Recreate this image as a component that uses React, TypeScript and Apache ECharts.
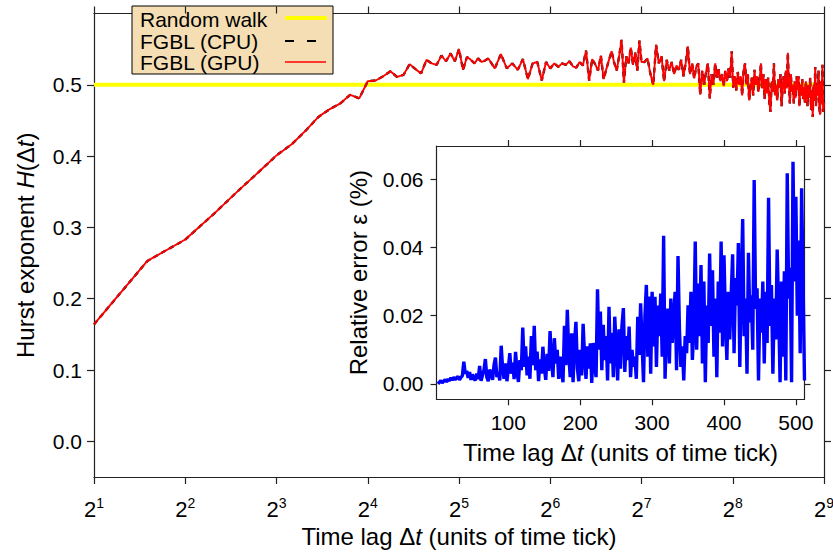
import React, { useEffect, useRef } from "react";
import * as echarts from "echarts";

// ---------------- DATA ----------------
// Hurst exponent H(Δt)
const hurstLowStart = 2; // lags 2..40, step 1
const hurstLowStep = 1;
const hurstLow = [
  0.164, 0.253, 0.283, 0.32, 0.352, 0.378, 0.401, 0.417, 0.436, 0.455,
  0.466, 0.474, 0.486, 0.481, 0.505, 0.506, 0.512, 0.519, 0.511, 0.514,
  0.529, 0.522, 0.516, 0.535, 0.53, 0.528, 0.541, 0.533, 0.544, 0.533,
  0.55, 0.521, 0.539, 0.535, 0.53, 0.537, 0.532, 0.534, 0.537,
];
const hurstMidStart = 42; // lags 42..128, step 2
const hurstMidStep = 2;
const hurstMid = [
  0.523, 0.543, 0.523, 0.53, 0.521, 0.536, 0.508, 0.53, 0.532, 0.506,
  0.532, 0.523, 0.53, 0.525, 0.53, 0.528, 0.533, 0.526, 0.524, 0.532,
  0.527, 0.548, 0.506, 0.536, 0.529, 0.52, 0.541, 0.508, 0.522, 0.535,
  0.547, 0.531, 0.52, 0.54, 0.563, 0.503, 0.54, 0.53, 0.552, 0.528,
  0.545, 0.52, 0.562, 0.532,
];
const hurstHighStart = 131; // lags 131..512, step 3
const hurstHighStep = 3;
const hurstHigh = [
  0.532, 0.537, 0.515, 0.5, 0.556, 0.53, 0.54, 0.505, 0.535, 0.52,
  0.532, 0.515, 0.527, 0.521, 0.535, 0.512, 0.53, 0.554, 0.515, 0.53,
  0.509, 0.525, 0.53, 0.486, 0.52, 0.5, 0.518, 0.53, 0.481, 0.515,
  0.5, 0.53, 0.51, 0.522, 0.505, 0.515, 0.498, 0.52, 0.505, 0.523,
  0.51, 0.547, 0.496, 0.512, 0.492, 0.518, 0.5, 0.512, 0.485, 0.52,
  0.53, 0.5, 0.515, 0.478, 0.495, 0.51, 0.485, 0.521, 0.5, 0.512,
  0.49, 0.505, 0.53, 0.495, 0.515, 0.48, 0.508, 0.488, 0.51, 0.475,
  0.462, 0.505, 0.49, 0.53, 0.485, 0.5, 0.478, 0.508, 0.496, 0.515,
  0.47, 0.5, 0.512, 0.488, 0.52, 0.495, 0.545, 0.505, 0.474, 0.515,
  0.49, 0.5, 0.474, 0.505, 0.482, 0.512, 0.492, 0.512, 0.47, 0.5,
  0.485, 0.508, 0.48, 0.497, 0.475, 0.505, 0.488, 0.47, 0.5, 0.482,
  0.51, 0.465, 0.492, 0.455, 0.5, 0.478, 0.525, 0.47, 0.5, 0.485,
  0.52, 0.468, 0.458, 0.505, 0.475, 0.528, 0.462, 0.475,
];
const randomWalkLevel = 0.5;
const lagRange = [2, 512];
const mainYTicks = [0, 0.1, 0.2, 0.3, 0.4, 0.5];
const mainYRange = [-0.05, 0.6];

// Inset: relative error ε (%) in units of 0.0001 %
const errStart = 2; // lags 2..512, step 2
const errStep = 2;
const errScaled = [
  0, 5, 10, 3, 8, 12, 6, 14, 9, 18,
  11, 20, 13, 17, 22, 12, 19, 24, 65, 30,
  38, 18, 35, 12, 28, 16, 10, 30, 14, 53,
  9, 25, 40, 73, 20, 8, 42, 30, 12, 55,
  77, 20, 35, 10, 112, 45, 15, 60, 8, 48,
  90, 30, 62, 14, 94, 35, 6, 70, 40, 165,
  50, 110, 25, 80, 15, 140, 55, 170, 40, 95,
  8, 72, 30, 109, 48, 12, 88, 38, 155, 70,
  20, 134, 60, 100, 15, 80, 35, 5, 170, 55,
  217, 90, 20, 148, 5, 120, 182, 45, 8, 100,
  25, 176, 80, 15, 110, 45, 119, 3, 120, 55,
  20, 277, 100, 212, 40, 173, 70, 140, 10, 226,
  60, 150, 20, 197, 110, 10, 160, 45, 170, 222,
  35, 140, 70, 168, 20, 100, 50, 80, 15, 197,
  85, 236, 120, 5, 200, 290, 80, 256, 30, 270,
  110, 255, 50, 230, 140, 265, 80, 434, 15, 160,
  221, 60, 250, 120, 200, 270, 40, 375, 160, 50,
  110, 10, 140, 90, 230, 120, 270, 70, 160, 417,
  100, 294, 140, 348, 60, 300, 5, 230, 120, 382,
  170, 333, 80, 250, 20, 300, 150, 417, 110, 377,
  190, 70, 270, 130, 260, 380, 90, 310, 230, 413,
  50, 300, 483, 140, 250, 30, 384, 180, 260, 100,
  597, 220, 280, 10, 250, 150, 300, 60, 270, 120,
  545, 170, 290, 30, 250, 130, 394, 220, 5, 300,
  80, 330, 10, 617, 250, 340, 5, 651, 300, 548,
  200, 420, 90, 573, 300, 10,
];
const errUnit = 0.0001;
const insetXTicks = [100, 200, 300, 400, 500];
const insetXRange = [0, 512];
const insetYTicks = [0, 0.02, 0.04, 0.06];
const insetYRange = [-0.0045, 0.0697];

const legendNames = ["Random walk", "FGBL (CPU)", "FGBL (GPU)"];

// ---------------- STYLE ----------------
const FONT = "'Liberation Sans', Arial, Helvetica, sans-serif";
const AXIS_COLOR = "#222";

function seg(start: number, step: number, values: number[], scale = 1) {
  return values.map((v, i) => [start + i * step, v * scale]);
}

export default function App() {
  const ref = useRef<HTMLDivElement>(null);

  useEffect(() => {
    document.body.style.margin = "0";
    if (!ref.current) return;
    const chart = echarts.init(ref.current, undefined, { renderer: "svg" });

    const hurstData = [
      ...seg(hurstLowStart, hurstLowStep, hurstLow),
      ...seg(hurstMidStart, hurstMidStep, hurstMid),
      ...seg(hurstHighStart, hurstHighStep, hurstHigh),
    ];
    const errData = seg(errStart, errStep, errScaled, errUnit);

    const lineStyle = { color: AXIS_COLOR, width: 1.2 };
    const tickStyle = { color: AXIS_COLOR, width: 1.2 };
    const titleRich = {
      n: { fontSize: 24, fontFamily: FONT, color: "#000" },
      i: { fontSize: 24, fontFamily: FONT, color: "#000", fontStyle: "italic" },
    };
    const lagTitle = "{n|Time lag Δ}{i|t}{n| (units of time tick)}";

    const option: any = {
      animation: false,
      backgroundColor: "#fff",
      grid: [
        { left: 94, top: 13.5, width: 730, height: 463.5, outerBoundsMode: "none", containLabel: false },
        {
          left: 436.5, top: 146, width: 368, height: 253.3,
          outerBoundsMode: "none", containLabel: false,
          show: true, backgroundColor: "#fff", borderWidth: 0,
        },
      ],
      xAxis: [
        {
          gridIndex: 0, type: "log", logBase: 2, min: lagRange[0], max: lagRange[1],
          position: "bottom",
          axisLine: { show: true, onZero: false, lineStyle },
          axisTick: { show: true, inside: false, length: 7, lineStyle: tickStyle },
          splitLine: { show: false },
          axisLabel: {
            margin: 19,
            formatter: (v: number) => `{b|2}{s|${Math.round(Math.log(v) / Math.log(2))}}`,
            rich: {
              b: { fontSize: 22, fontFamily: FONT, color: "#000" },
              s: { fontSize: 14, fontFamily: FONT, color: "#000", padding: [0, 0, 12, 0] },
            },
          },
          name: lagTitle, nameLocation: "middle", nameGap: 46,
          nameTextStyle: { rich: titleRich },
        },
        {
          gridIndex: 0, type: "log", logBase: 2, min: lagRange[0], max: lagRange[1],
          position: "top", z: 0,
          axisLine: { show: true, onZero: false, lineStyle },
          axisTick: { show: false }, axisLabel: { show: false }, splitLine: { show: false },
        },
        {
          gridIndex: 0, type: "log", logBase: 2, min: lagRange[0], max: lagRange[1],
          position: "top", z: 10,
          axisLine: { show: false, onZero: false },
          axisTick: { show: true, inside: false, length: 7, lineStyle: tickStyle },
          axisLabel: { show: false }, splitLine: { show: false },
        },
        {
          gridIndex: 1, type: "value", min: insetXRange[0], max: insetXRange[1],
          position: "bottom",
          axisLine: { show: true, onZero: false, lineStyle },
          axisTick: { show: true, inside: false, length: 6, lineStyle: tickStyle, customValues: insetXTicks },
          splitLine: { show: false },
          axisLabel: {
            margin: 13, customValues: insetXTicks,
            fontSize: 21, fontFamily: FONT, color: "#000",
          },
          name: lagTitle, nameLocation: "middle", nameGap: 41,
          nameTextStyle: { rich: titleRich },
        },
        {
          gridIndex: 1, type: "value", min: insetXRange[0], max: insetXRange[1],
          position: "top",
          axisLine: { show: true, onZero: false, lineStyle },
          axisTick: { show: true, inside: false, length: 6, lineStyle: tickStyle, customValues: insetXTicks },
          axisLabel: { show: false }, splitLine: { show: false },
        },
      ],
      yAxis: [
        {
          gridIndex: 0, type: "value", min: mainYRange[0], max: mainYRange[1],
          position: "left",
          axisLine: { show: true, onZero: false, lineStyle },
          axisTick: { show: true, inside: false, length: 7, lineStyle: tickStyle, customValues: mainYTicks },
          splitLine: { show: false },
          axisLabel: {
            margin: 12, customValues: mainYTicks,
            formatter: (v: number) => v.toFixed(1),
            fontSize: 21, fontFamily: FONT, color: "#000",
          },
          name: "{n|Hurst exponent }{i|H}{n|(Δ}{i|t}{n|)}",
          nameLocation: "middle", nameGap: 57,
          nameTextStyle: { rich: titleRich },
        },
        {
          gridIndex: 0, type: "value", min: mainYRange[0], max: mainYRange[1],
          position: "right",
          axisLine: { show: true, onZero: false, lineStyle },
          axisTick: { show: true, inside: false, length: 7, lineStyle: tickStyle, customValues: mainYTicks },
          axisLabel: { show: false }, splitLine: { show: false },
        },
        {
          gridIndex: 1, type: "value", min: insetYRange[0], max: insetYRange[1],
          position: "left",
          axisLine: { show: true, onZero: false, lineStyle },
          axisTick: { show: true, inside: false, length: 6, lineStyle: tickStyle, customValues: insetYTicks },
          splitLine: { show: false },
          axisLabel: {
            margin: 13, customValues: insetYTicks,
            formatter: (v: number) => v.toFixed(2),
            fontSize: 21, fontFamily: FONT, color: "#000",
          },
          name: "{n|Relative error ε (%)}",
          nameLocation: "middle", nameGap: 66,
          nameTextStyle: { rich: titleRich },
        },
        {
          gridIndex: 1, type: "value", min: insetYRange[0], max: insetYRange[1],
          position: "right",
          axisLine: { show: true, onZero: false, lineStyle },
          axisTick: { show: true, inside: false, length: 6, lineStyle: tickStyle, customValues: insetYTicks },
          axisLabel: { show: false }, splitLine: { show: false },
        },
      ],
      series: [
        {
          name: legendNames[0], type: "line", xAxisIndex: 0, yAxisIndex: 0,
          data: [[lagRange[0], randomWalkLevel], [lagRange[1], randomWalkLevel]],
          showSymbol: false, symbol: "none",
          lineStyle: { color: "#FFFF00", width: 4 },
        },
        {
          name: legendNames[1], type: "line", xAxisIndex: 0, yAxisIndex: 0,
          data: hurstData, showSymbol: false, symbol: "none",
          lineStyle: { color: "#111", width: 2.4, type: [5, 4] },
        },
        {
          name: legendNames[2], type: "line", xAxisIndex: 0, yAxisIndex: 0,
          data: hurstData, showSymbol: false, symbol: "none",
          lineStyle: { color: "#FF0000", width: 1.9 },
        },
        {
          name: "error", type: "line", xAxisIndex: 3, yAxisIndex: 2,
          data: errData, showSymbol: false, symbol: "none",
          lineStyle: { color: "#0000FF", width: 3.4 },
          z: 3,
        },
      ],
      graphic: [
        {
          type: "rect", z: 5,
          shape: { x: 132, y: 6, width: 201, height: 68 },
          style: { fill: "#F5DEB3", stroke: "#000", lineWidth: 1 },
        },
        {
          type: "text", z: 6, x: 140, y: 19,
          style: { text: legendNames[0], fontSize: 21, fontFamily: FONT, fill: "#000", verticalAlign: "middle" },
        },
        {
          type: "text", z: 6, x: 140, y: 41,
          style: { text: legendNames[1], fontSize: 21, fontFamily: FONT, fill: "#000", verticalAlign: "middle" },
        },
        {
          type: "text", z: 6, x: 140, y: 62.5,
          style: { text: legendNames[2], fontSize: 21, fontFamily: FONT, fill: "#000", verticalAlign: "middle" },
        },
        {
          type: "line", z: 6,
          shape: { x1: 285, y1: 18, x2: 327, y2: 18 },
          style: { stroke: "#FFFF00", lineWidth: 4 },
        },
        {
          type: "line", z: 6,
          shape: { x1: 285, y1: 41, x2: 317, y2: 41 },
          style: { stroke: "#000", lineWidth: 2, lineDash: [9, 13] },
        },
        {
          type: "line", z: 6,
          shape: { x1: 285, y1: 62, x2: 326, y2: 62 },
          style: { stroke: "#FF0000", lineWidth: 1.5 },
        },
      ],
    };

    chart.setOption(option);
    return () => chart.dispose();
  }, []);

  return (
    <div
      ref={ref}
      style={{ position: "absolute", left: 0, top: 0, width: 833, height: 552 }}
    />
  );
}
